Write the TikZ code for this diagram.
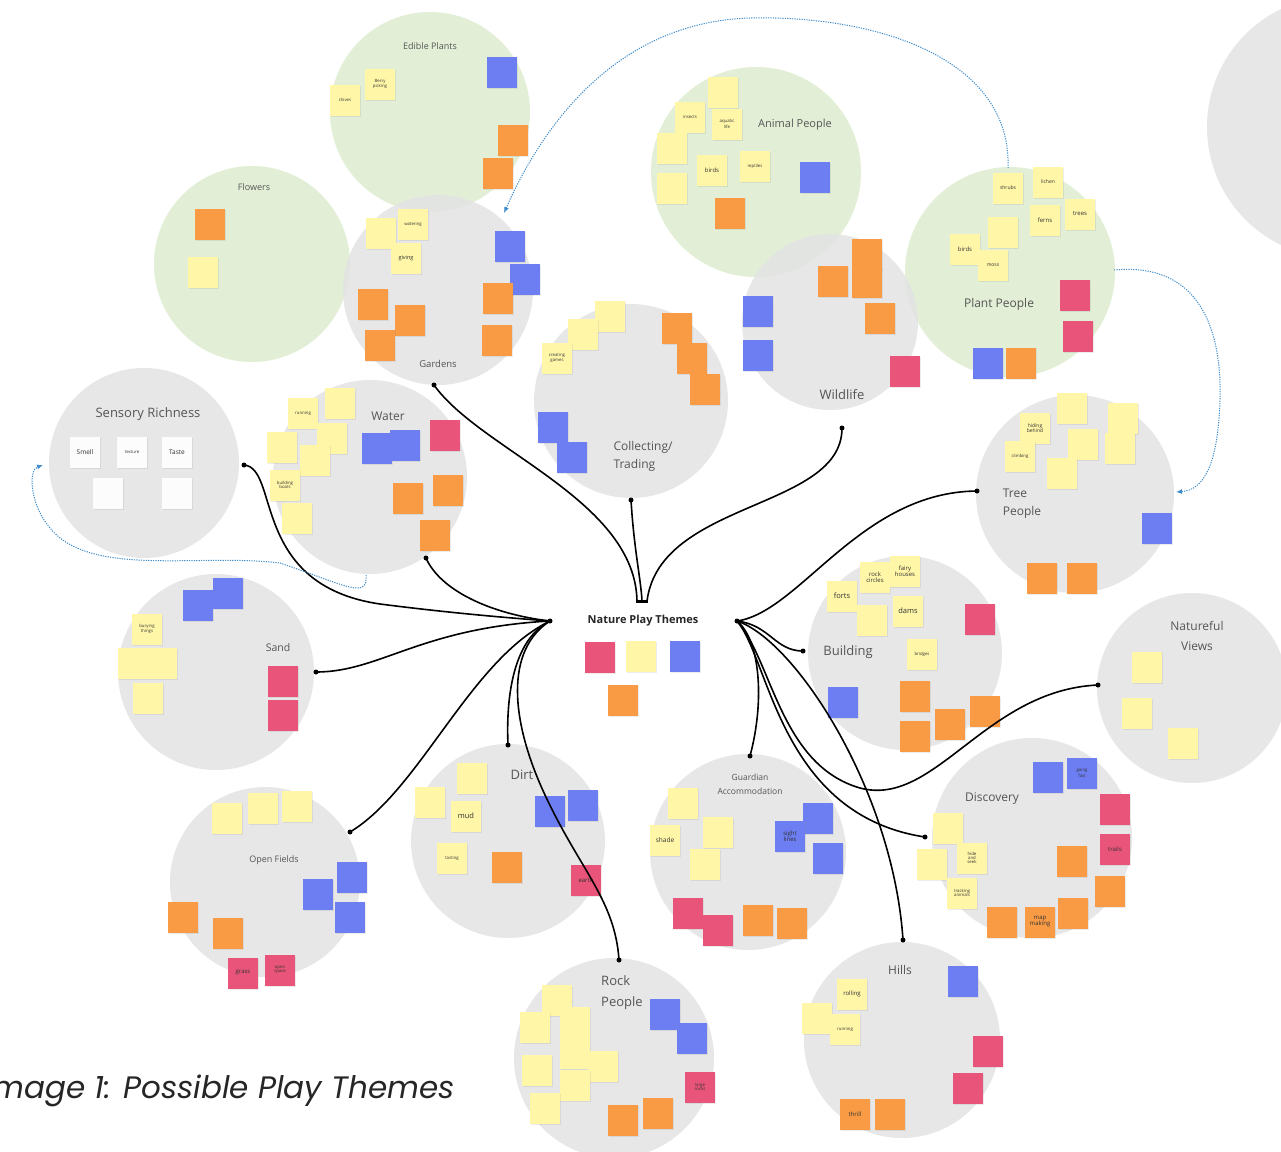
\documentclass[tikz,border=0pt]{standalone}
\usepackage{fontspec}
\setmainfont{Open Sans}
\newfontfamily\capfont{Poppins}
\usetikzlibrary{arrows.meta,shadows}
\definecolor{ny}{HTML}{FFF6A8}
\definecolor{no}{HTML}{F99B45}
\definecolor{nb}{HTML}{6C7EF2}
\definecolor{nr}{HTML}{E9557A}
\definecolor{nw}{HTML}{FCFCFC}
\definecolor{cgreen}{HTML}{DDEDCF}
\definecolor{cgray}{HTML}{E3E3E3}
\definecolor{ttlgray}{HTML}{555555}
\definecolor{dotblue}{HTML}{3E8CCB}
\newcounter{snc}
\newcommand\snote[5][4.3]{\stepcounter{snc}\node[sticky, fill=#4, font=\fontsize{#1}{#1}\selectfont] (sn\arabic{snc}) at (#2,#3) {#5};}
\tikzset{
  gcirc/.style={circle, fill=cgreen, fill opacity=0.85, inner sep=0pt},
  ycirc/.style={circle, fill=cgray, fill opacity=0.85, inner sep=0pt},
  ttl/.style={text=ttlgray, align=center, inner sep=0pt},
  sticky/.style={rectangle, minimum width=30pt, minimum height=31pt, inner sep=1pt,
    text width=28pt, align=center, text=black!80,
    drop shadow={shadow xshift=0.5pt, shadow yshift=-1.2pt, opacity=0.15}},
  conn/.style={line width=1.6pt, black},
  blink/.style={dotblue, line width=1pt, dash pattern=on 1.2pt off 1.2pt,
    -{Latex[length=6pt,width=5pt]}},
  enddot/.style={circle, fill=black, inner sep=0pt, minimum size=5pt}
}
\begin{document}
\begin{tikzpicture}[x=1pt,y=-1pt]
\useasboundingbox[fill=white] (0,0) rectangle (1281,1151);
% ---------- circles ----------
\node[gcirc, minimum size=200pt] (edible) at (430,112) {};
\node[gcirc, minimum size=196pt] (flowers) at (252,264) {};
\node[gcirc, minimum size=210pt] (animal) at (756,172) {};
\node[gcirc, minimum size=210pt] (plant) at (1010,272) {};
\node[ycirc, minimum size=190pt] (gardens) at (438,290) {};
\node[ycirc, minimum size=176pt] (wildlife) at (830,322) {};
\node[ycirc, minimum size=262pt] (farright) at (1338,127) {};
\node[ycirc, minimum size=194pt] (collect) at (631,401) {};
\node[ycirc, minimum size=190pt] (sensory) at (144,463) {};
\node[ycirc, minimum size=194pt] (water) at (370,477) {};
\node[ycirc, minimum size=196pt] (sand) at (216,672) {};
\node[ycirc, minimum size=198pt] (tree) at (1075,494) {};
\node[ycirc, minimum size=194pt] (building) at (905,653) {};
\node[ycirc, minimum size=190pt] (views) at (1192,688) {};
\node[ycirc, minimum size=194pt] (dirt) at (508,841) {};
\node[ycirc, minimum size=190pt] (fields) at (265,882) {};
\node[ycirc, minimum size=196pt] (guardian) at (748,852) {};
\node[ycirc, minimum size=200pt] (discovery) at (1032,838) {};
\node[ycirc, minimum size=200pt] (rock) at (614,1058) {};
\node[ycirc, minimum size=196pt] (hills) at (902,1040) {};
% ---------- titles ----------
\node[ttl, font=\fontsize{9}{11}\selectfont] (edibleT) at (430,46) {Edible Plants};
\node[ttl, font=\fontsize{9}{11}\selectfont] (flowersT) at (254,187) {Flowers};
\node[ttl, font=\fontsize{9.5}{11}\selectfont] (gardensT) at (438,364) {Gardens};
\node[ttl, font=\fontsize{11}{13}\selectfont] (animalT) at (795,125) {Animal People};
\node[ttl, font=\fontsize{13}{15}\selectfont] (wildlifeT) at (842,395) {Wildlife};
\node[ttl, font=\fontsize{12}{14}\selectfont] (plantT) at (999,304) {Plant People};
\node[ttl, font=\fontsize{12}{18}\selectfont, align=left] (collectT) at (643,456) {Collecting/\\Trading};
\node[ttl, font=\fontsize{13}{15}\selectfont] (sensoryT) at (148,414) {Sensory Richness};
\node[ttl, font=\fontsize{12}{14}\selectfont] (waterT) at (388,416) {Water};
\node[ttl, font=\fontsize{10.5}{12}\selectfont] (sandT) at (278,648) {Sand};
\node[ttl, font=\fontsize{12}{18}\selectfont, align=left] (treeT) at (1022,504) {Tree\\People};
\node[ttl, font=\fontsize{13}{15}\selectfont] (buildingT) at (848,652) {Building};
\node[ttl, font=\fontsize{12}{20}\selectfont] (viewsT) at (1197,636) {Natureful\\Views};
\node[ttl, font=\fontsize{13}{15}\selectfont] (dirtT) at (522,775) {Dirt};
\node[ttl, font=\fontsize{9}{11}\selectfont] (fieldsT) at (274,860) {Open Fields};
\node[ttl, font=\fontsize{8.5}{14}\selectfont] (guardianT) at (750,784) {Guardian\\Accommodation};
\node[ttl, font=\fontsize{12}{14}\selectfont] (discoveryT) at (992,799) {Discovery};
\node[ttl, font=\fontsize{13}{21}\selectfont, align=left] (rockT) at (622,993) {Rock\\People};
\node[ttl, font=\fontsize{12}{14}\selectfont] (hillsT) at (900,970) {Hills};
\node[text=black!85, font=\bfseries\fontsize{11}{13}\selectfont, inner sep=0pt] (centre) at (643,621) {Nature Play Themes};
% ---------- sticky notes ----------
% Edible plants
\snote{380}{84}{ny}{Berry\\picking}
\snote{345}{100}{ny}{chives}
\snote{502}{72}{nb}{}
\snote{513}{140}{no}{}
\snote{498}{173}{no}{}
% Flowers
\snote{210}{224}{no}{}
\snote{203}{272}{ny}{}
% Gardens
\snote{381}{233}{ny}{}
\snote{413}{224}{ny}{watering}
\snote[5.5]{406}{258}{ny}{giving}
\snote{510}{246}{nb}{}
\snote{525}{279}{nb}{}
\snote{498}{298}{no}{}
\snote{373}{304}{no}{}
\snote{410}{320}{no}{}
\snote{380}{345}{no}{}
\snote{497}{340}{no}{}
% Animal people
\snote{723}{92}{ny}{}
\snote{690}{117}{ny}{insects}
\snote{727}{124}{ny}{aquatic\\life}
\snote{672}{148}{ny}{}
\snote[6]{712}{170}{ny}{birds}
\snote{755}{166}{ny}{reptiles}
\snote{672}{188}{ny}{}
\snote{815}{177}{nb}{}
\snote{730}{213}{no}{}
% Wildlife
\snote{833}{281}{no}{}
\snote{867}{254}{no}{}
\snote{867}{282}{no}{}
\snote{880}{318}{no}{}
\snote{758}{311}{nb}{}
\snote{758}{355}{nb}{}
\snote{905}{371}{nr}{}
% Plant people
\snote[5]{1008}{188}{ny}{shrubs}
\snote[5]{1048}{182}{ny}{lichen}
\snote[6]{1080}{214}{ny}{trees}
\snote[6]{1045}{220}{ny}{ferns}
\snote{1003}{232}{ny}{}
\snote[6]{965}{249}{ny}{birds}
\snote[5]{993}{265}{ny}{moss}
\snote{1075}{295}{nr}{}
\snote{1078}{336}{nr}{}
\snote{988}{363}{nb}{}
\snote{1021}{363}{no}{}
% Collecting
\snote{610}{316}{ny}{}
\snote{583}{334}{ny}{}
\snote{557}{358}{ny}{creating\\games}
\snote{677}{328}{no}{}
\snote{692}{358}{no}{}
\snote{705}{389}{no}{}
\snote{553}{427}{nb}{}
\snote{572}{457}{nb}{}
% Sensory
\snote[6.5]{85}{452}{nw}{Smell}
\snote{132}{452}{nw}{texture}
\snote[6.5]{177}{452}{nw}{Taste}
\snote{108}{493}{nw}{}
\snote{177}{493}{nw}{}
% Water
\snote{303}{413}{ny}{running}
\snote{340}{403}{ny}{}
\snote{332}{438}{ny}{}
\snote{282}{447}{ny}{}
\snote{315}{460}{ny}{}
\snote{285}{485}{ny}{building\\boats}
\snote{297}{518}{ny}{}
\snote{377}{448}{nb}{}
\snote{405}{445}{nb}{}
\snote{445}{435}{nr}{}
\snote{408}{498}{no}{}
\snote{448}{490}{no}{}
\snote{435}{535}{no}{}
% Sand
\snote{198}{605}{nb}{}
\snote{228}{593}{nb}{}
\snote{147}{629}{ny}{burying\\things}
\snote{133}{663}{ny}{}
\snote{162}{663}{ny}{}
\snote{148}{698}{ny}{}
\snote{283}{681}{nr}{}
\snote{283}{715}{nr}{}
% Tree people
\snote{1072}{408}{ny}{}
\snote[5]{1035}{428}{ny}{hiding\\behind}
\snote{1123}{418}{ny}{}
\snote{1083}{444}{ny}{}
\snote{1120}{448}{ny}{}
\snote{1020}{456}{ny}{climbing}
\snote{1062}{473}{ny}{}
\snote{1157}{528}{nb}{}
\snote{1042}{578}{no}{}
\snote{1082}{578}{no}{}
% Building
\snote[6]{875}{577}{ny}{rock\\circles}
\snote[6]{905}{571}{ny}{fairy\\houses}
\snote[7.5]{842}{596}{ny}{forts}
\snote{872}{620}{ny}{}
\snote[7.5]{908}{611}{ny}{dams}
\snote{922}{654}{ny}{bridges}
\snote{980}{619}{nr}{}
\snote{843}{702}{nb}{}
\snote{915}{696}{no}{}
\snote{915}{736}{no}{}
\snote{950}{724}{no}{}
\snote{985}{711}{no}{}
% Natureful views
\snote{1147}{667}{ny}{}
\snote{1137}{713}{ny}{}
\snote{1183}{743}{ny}{}
% Dirt
\snote{472}{778}{ny}{}
\snote{430}{802}{ny}{}
\snote[7.5]{466}{816}{ny}{mud}
\snote{452}{858}{ny}{tasting}
\snote{507}{867}{no}{}
\snote{550}{811}{nb}{}
\snote{583}{805}{nb}{}
\snote[6]{586}{880}{nr}{earth}
% Open fields
\snote{227}{818}{ny}{}
\snote{263}{808}{ny}{}
\snote{297}{806}{ny}{}
\snote{352}{877}{nb}{}
\snote{318}{894}{nb}{}
\snote{350}{917}{nb}{}
\snote{183}{917}{no}{}
\snote{228}{933}{no}{}
\snote[6]{243}{973}{nr}{grass}
\snote{280}{970}{nr}{open\\space}
% Guardian
\snote{683}{803}{ny}{}
\snote[6.5]{665}{840}{ny}{shade}
\snote{718}{832}{ny}{}
\snote{705}{864}{ny}{}
\snote{818}{818}{nb}{}
\snote[6]{790}{836}{nb}{sight\\lines}
\snote{828}{858}{nb}{}
\snote{688}{913}{nr}{}
\snote{718}{930}{nr}{}
\snote{758}{920}{no}{}
\snote{792}{923}{no}{}
% Discovery
\snote{1048}{777}{nb}{}
\snote{1082}{773}{nb}{going\\fast}
\snote{1115}{809}{nr}{}
\snote[6]{1115}{849}{nr}{trails}
\snote{948}{828}{ny}{}
\snote{932}{864}{ny}{}
\snote{972}{858}{ny}{hide\\and\\seek}
\snote{962}{893}{ny}{tracking\\animals}
\snote{1072}{861}{no}{}
\snote{1110}{891}{no}{}
\snote{1002}{922}{no}{}
\snote[6]{1040}{922}{no}{map\\making}
\snote{1073}{913}{no}{}
% Rock people
\snote{557}{1000}{ny}{}
\snote{535}{1027}{ny}{}
\snote{575}{1022}{ny}{}
\snote{575}{1053}{ny}{}
\snote{603}{1066}{ny}{}
\snote{537}{1070}{ny}{}
\snote{575}{1085}{ny}{}
\snote{545}{1108}{ny}{}
\snote{665}{1014}{nb}{}
\snote{692}{1038}{nb}{}
\snote{700}{1087}{nr}{large\\rocks}
\snote{623}{1120}{no}{}
\snote{658}{1113}{no}{}
% Hills
\snote[6]{852}{994}{ny}{rolling}
\snote{817}{1018}{ny}{}
\snote{845}{1029}{ny}{running}
\snote{963}{981}{nb}{}
\snote{988}{1051}{nr}{}
\snote{968}{1088}{nr}{}
\snote[6]{855}{1114}{no}{thrill}
\snote{890}{1114}{no}{}
% Centre
\snote{600}{657}{nr}{}
\snote{641}{656}{ny}{}
\snote{685}{656}{nb}{}
\snote{623}{700}{no}{}
% ---------- connector end points ----------
\coordinate (hubL) at (550,621);
\coordinate (hubT) at (642,601);
\coordinate (hubR) at (737,621);
\coordinate (pSens) at (244,465);
\coordinate (pWater) at (426,558);
\coordinate (pSand) at (316,672);
\coordinate (pFields) at (350,832);
\coordinate (pDirt) at (508,745);
\coordinate (pRock) at (619,960);
\coordinate (pGard) at (434,385);
\coordinate (pColl) at (631,500);
\coordinate (pWild) at (842,428);
\coordinate (pTree) at (977,491);
\coordinate (pBuild) at (803,651);
\coordinate (pViews) at (1098,685);
\coordinate (pDisc) at (925,837);
\coordinate (pHills) at (903,940);
\coordinate (pGuard) at (750,756);
% ---------- connectors ----------
\draw[conn] (pSens) .. controls (280,468) and (250,585) .. (380,604) .. controls (450,613) and (510,618) .. (hubL);
\draw[conn] (pWater) .. controls (440,590) and (490,614) .. (hubL);
\draw[conn] (pSand) .. controls (380,672) and (420,628) .. (hubL);
\draw[conn] (pFields) .. controls (420,790) and (470,660) .. (hubL);
\draw[conn] (hubL) .. controls (512,640) and (506,700) .. (pDirt);
\draw[conn] (hubL) .. controls (505,650) and (510,720) .. (545,795) .. controls (580,870) and (615,900) .. (pRock);
\draw[conn] (pGard) .. controls (480,450) and (635,500) .. (637,601);
\draw[conn] (pColl) .. controls (634,550) and (641,580) .. (hubT);
\draw[conn] (pWild) .. controls (842,510) and (660,500) .. (647,601);
\draw[conn] (hubR) .. controls (800,612) and (860,492) .. (pTree);
\draw[conn] (hubR) .. controls (770,625) and (775,651) .. (pBuild);
\draw[conn] (hubR) .. controls (772,660) and (780,765) .. (860,788) .. controls (935,808) and (985,690) .. (pViews);
\draw[conn] (hubR) .. controls (770,660) and (780,815) .. (pDisc);
\draw[conn] (hubR) .. controls (795,640) and (893,790) .. (pHills);
\draw[conn] (hubR) .. controls (760,640) and (765,700) .. (pGuard);
\foreach \p in {hubL,hubR,pSens,pWater,pSand,pFields,pDirt,pRock,pGard,pColl,pWild,pTree,pBuild,pViews,pDisc,pHills,pGuard}
  \node[enddot] at (\p) {};
\draw[black, line width=3pt] (636,601) -- (648,601);
% ---------- blue dotted links ----------
\coordinate (bPlantTop) at (1008,168);
\coordinate (bGardIn) at (504,213);
\coordinate (bPlantR) at (1114,270);
\coordinate (bTreeIn) at (1176,492);
\coordinate (bWaterB) at (366,575);
\coordinate (bSensIn) at (43,465);
\draw[blink] (bPlantTop) .. controls (1012,60) and (880,15) .. (750,18) .. controls (620,22) and (545,120) .. (bGardIn);
\draw[blink] (bPlantR) .. controls (1200,262) and (1222,330) .. (1220,400) .. controls (1218,462) and (1205,490) .. (bTreeIn);
\draw[blink] (bWaterB) .. controls (368,600) and (345,585) .. (280,563) .. controls (200,553) and (90,578) .. (50,528) .. controls (30,505) and (28,470) .. (bSensIn);
% ---------- caption ----------
\node[anchor=base east, inner sep=0pt, font=\capfont\itshape\fontsize{31}{36}\selectfont, text=black!85] (caption) at (455,1098) {Image 1: Possible Play Themes};
\end{tikzpicture}
\end{document}
